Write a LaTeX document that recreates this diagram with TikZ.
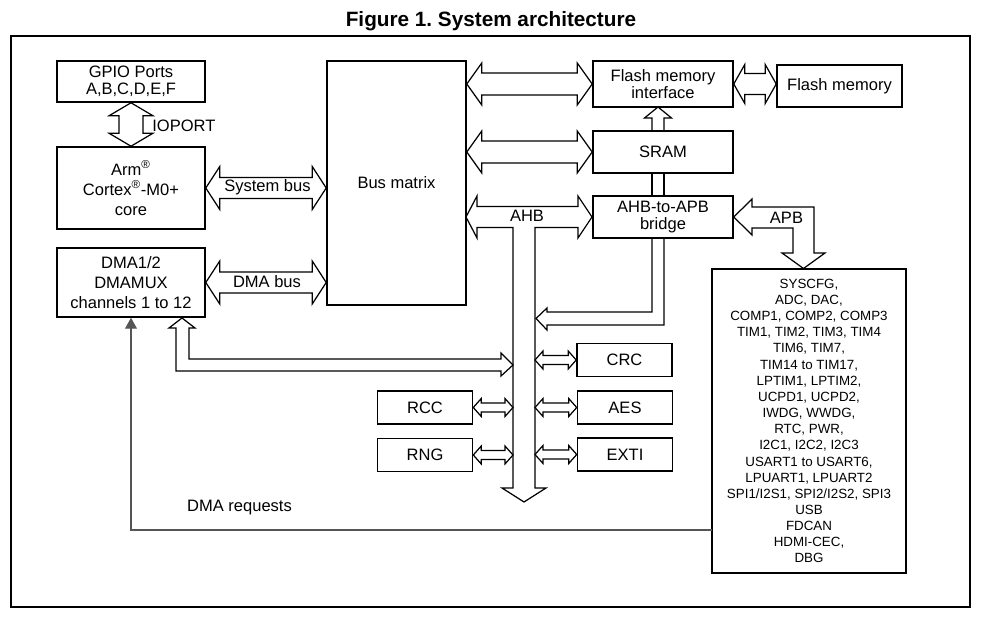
\documentclass[tikz,border=0pt]{standalone}
\usepackage{fontspec}
\setmainfont{Liberation Sans}
\usepackage{tikz}
\usetikzlibrary{arrows.meta, positioning, calc}
\definecolor{reqgray}{RGB}{85,85,85}
\frenchspacing
\newcommand{\boxfont}{\fontsize{9.4pt}{9.8pt}\selectfont}
\newcommand{\tallfont}{\fontsize{9.4pt}{11.4pt}\selectfont}
\newcommand{\apbfont}{\fontsize{7.6pt}{9.2pt}\selectfont}
\tikzset{
  block/.style={rectangle, draw, fill=white, line width=0.9pt,
    align=center, inner sep=1pt, font=\boxfont},
  smallblock/.style={block, minimum width=1.9cm, minimum height=0.66cm},
  bus/.style={draw, fill=white, line width=0.7pt, line join=miter},
  lbl/.style={font=\boxfont, inner sep=0pt},
  reqline/.style={draw=reqgray, line width=0.6pt,
    -{Triangle[width=6.8pt,length=6.2pt]}}
}
% hollow double arrow: left tip #1, right tip #2, shaft half #3, head half #4, head length #5
\newcommand{\hbus}[5]{%
  \draw[bus] (#1) -- ($(#1)+(#5,-#4)$) -- ($(#1)+(#5,-#3)$) -- ($(#2)+(-#5,-#3)$)
    -- ($(#2)+(-#5,-#4)$) -- (#2) -- ($(#2)+(-#5,#4)$) -- ($(#2)+(-#5,#3)$)
    -- ($(#1)+(#5,#3)$) -- ($(#1)+(#5,#4)$) -- cycle;}
% same, upright: top tip #1, bottom tip #2
\newcommand{\vbus}[5]{%
  \draw[bus] (#1) -- ($(#1)+(#4,#5)$) -- ($(#1)+(#3,#5)$) -- ($(#2)+(#3,-#5)$)
    -- ($(#2)+(#4,-#5)$) -- (#2) -- ($(#2)+(-#4,-#5)$) -- ($(#2)+(-#3,-#5)$)
    -- ($(#1)+(-#3,#5)$) -- ($(#1)+(-#4,#5)$) -- cycle;}

\begin{document}
\begin{tikzpicture}[x=0.02cm, y=-0.02cm,
  bigblock/.style={block, minimum width=2.96cm},
  memblock/.style={block, minimum width=2.8cm, minimum height=0.84cm}]

  \useasboundingbox (0,0) rectangle (995,618);

  % Title and frame
  \node[font=\bfseries\fontsize{11.8pt}{14pt}\selectfont] (title) at (491,21) {Figure 1. System architecture};
  \draw[line width=0.6pt] (11,36) rectangle (970,607);

  % Left column
  \node[bigblock, minimum height=0.82cm] (gpio) at (131,81.5) {GPIO Ports\\A,B,C,D,E,F};
  \node[bigblock, minimum height=1.64cm, font=\tallfont] (cpu) at (131,188) {Arm\textsuperscript{®}\\Cortex\textsuperscript{®}-M0+\\core};
  \node[bigblock, minimum height=1.38cm, font=\tallfont] (dma) at (131,282.5) {DMA1/2\\DMAMUX\\channels 1 to 12};

  % Bus matrix
  \node[block, minimum width=2.78cm, minimum height=4.88cm] (bm) at (396.5,183) {Bus matrix};

  % Memories and bridge
  \node[memblock, minimum height=0.92cm] (fi) at (663,84) {Flash memory\\interface};
  \node[block, minimum width=2.5cm, minimum height=0.84cm] (flash) at (839.5,86) {Flash memory};
  \node[memblock] (sram) at (663,152) {SRAM};
  \node[memblock] (bridge) at (663,217) {AHB-to-APB\\bridge};

  % APB peripherals
  \node[block, minimum width=3.88cm, minimum height=6.08cm, font=\apbfont] (apb) at (809,421)
    {SYSCFG,\\ADC, DAC,\\COMP1, COMP2, COMP3\\TIM1, TIM2, TIM3, TIM4\\TIM6, TIM7,\\TIM14 to TIM17,\\
     LPTIM1, LPTIM2,\\UCPD1, UCPD2,\\IWDG, WWDG,\\RTC, PWR,\\I2C1, I2C2, I2C3\\USART1 to USART6,\\
     LPUART1, LPUART2\\SPI1/I2S1, SPI2/I2S2, SPI3\\USB\\FDCAN\\HDMI-CEC,\\DBG};

  % AHB peripherals
  \node[smallblock] (crc) at (624.5,360) {CRC};
  \node[smallblock] (aes) at (625,407.5) {AES};
  \node[smallblock] (exti) at (625,454.5) {EXTI};
  \node[smallblock] (rcc) at (425,407.5) {RCC};
  \node[smallblock] (rng) at (425,455) {RNG};

  \coordinate (busL) at (513,0);
  \coordinate (busR) at (535,0);
  \coordinate (req) at (712,530);

  % Buses to the bus matrix
  \vbus{gpio.south}{cpu.north}{12}{22}{13}
  \hbus{cpu.east}{cpu.east -| bm.west}{10.5}{21.5}{14}
  \hbus{dma.east}{dma.east -| bm.west}{10.5}{21.5}{14}
  \hbus{fi.west -| bm.east}{fi.west}{11}{21}{15}
  \hbus{sram.west -| bm.east}{sram.west}{11}{21}{15}
  \hbus{fi.east}{fi.east -| flash.west}{10.5}{19.5}{11}

  % AHB with its branch down
  \draw[bus] (466,217) -- (477,196) -- (477,206.5) -- (578,206.5) -- (578,196) -- (592,217)
    -- (578,238) -- (578,227.5) -- (535,227.5) -- (535,488) -- (546,488) -- (524,502)
    -- (502,488) -- (513,488) -- (513,227.5) -- (477,227.5) -- (477,238) -- cycle;

  % Pipe from the bridge
  \draw[bus, fill=none] (664,131) -- (664,118) -- (671.5,118) -- (658,107) -- (644.5,118) -- (652,118) -- (652,131);
  \draw[line width=0.7pt] (652,173) -- (652,196) (664,173) -- (664,196);
  \draw[bus, fill=none] (652,238) -- (652,312) -- (547,312) -- (547,308) -- (536,318.5)
    -- (547,330) -- (547,325) -- (664,325) -- (664,238);

  % APB
  \draw[bus] (bridge.east) -- (752,199) -- (752,207) -- (814,207) -- (814,253) -- (825,253)
    -- (803.5,268.5) -- (782,253) -- (793,253) -- (793,228) -- (752,228) -- (752,235) -- cycle;

  % DMA to AHB
  \draw[bus] (182,318) -- (195,328) -- (189,328) -- (189,359) -- (501,359) -- (501,353)
    -- (513,365) -- (501,376) -- (501,371) -- (176,371) -- (176,328) -- (169,328) -- cycle;

  % AHB peripherals
  \hbus{rcc.east}{rcc.east -| busL}{4.5}{9}{8}
  \hbus{rng.east}{rng.east -| busL}{4.5}{9}{8}
  \hbus{crc.west -| busR}{crc.west}{4.5}{9}{8}
  \hbus{aes.west -| busR}{aes.west}{4.5}{9}{8}
  \hbus{exti.west -| busR}{exti.west}{4.5}{9}{8}

  % DMA requests
  \draw[reqline] (req) -| (dma.south);

  % Labels
  \node[lbl, anchor=west] (ioport) at (152,126) {IOPORT};
  \node[lbl] (sysbus) at (267.5,187.5) {System bus};
  \node[lbl] (dmabus) at (267,282) {DMA bus};
  \node[lbl] (ahb) at (527,216) {AHB};
  \node[lbl] (apblbl) at (786.5,218) {APB};
  \node[lbl] (dmareq) at (239.5,508) {DMA requests};
\end{tikzpicture}
\end{document}
